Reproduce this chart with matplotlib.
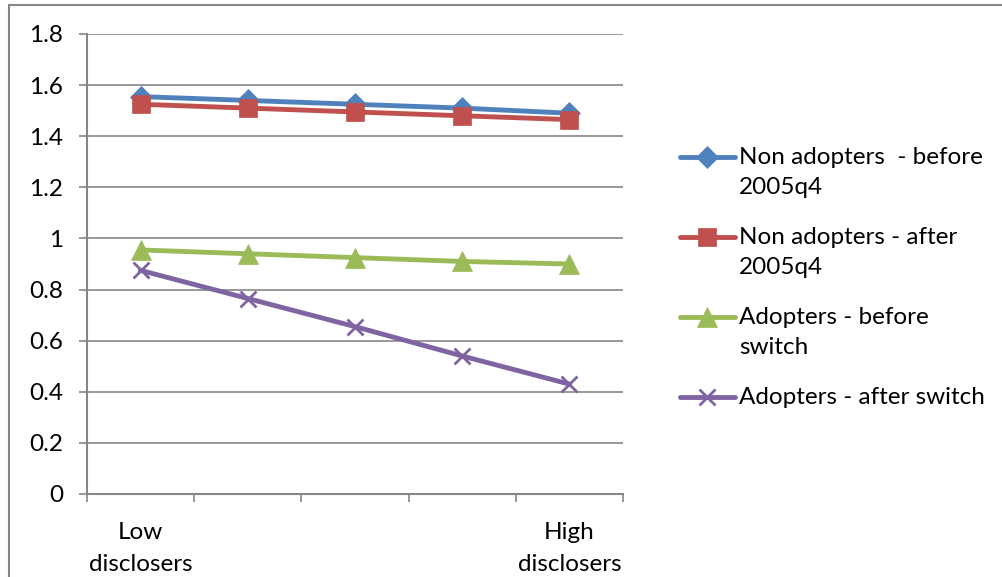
import numpy as np
import matplotlib
matplotlib.use("Agg")
import matplotlib.pyplot as plt
from matplotlib.lines import Line2D
from matplotlib.patches import Rectangle

# --------------------------------------------------
# Data
# --------------------------------------------------

categories = ["Low\ndisclosers", "", "", "", "High\ndisclosers"]

non_before = [1.555, 1.540, 1.525, 1.510, 1.490]
non_after = [1.525, 1.510, 1.495, 1.480, 1.465]
adopt_before = [0.955, 0.940, 0.925, 0.910, 0.900]
adopt_after = [0.875, 0.765, 0.655, 0.540, 0.430]

labels = [
    "Non adopters  - before\n2005q4",
    "Non adopters - after\n2005q4",
    "Adopters - before\nswitch",
    "Adopters - after switch",
]

colors = ["#4F81BD", "#C0504D", "#9BBB59", "#8064A2"]
markers = ["D", "s", "^", "x"]
msizes = [11, 13, 14, 12]

plt.rcParams["font.family"] = ["Lato", "DejaVu Sans"]
FS = 17.5

W, H = 1003, 577
fig = plt.figure(figsize=(W / 100, H / 100), dpi=100)
ax = fig.add_axes([87 / W, 1 - 494 / H, (623 - 87) / W, (494 - 34) / H])

x = np.arange(len(categories))
series = [non_before, non_after, adopt_before, adopt_after]

for vals, c, m, ms in zip(series, colors, markers, msizes):
    ax.plot(x, vals, color=c, linewidth=3.5, marker=m, markersize=ms,
            markeredgewidth=2 if m == "x" else 0.5, markeredgecolor=c,
            markerfacecolor=c, zorder=3, clip_on=False)

ax.set_xlim(-0.5, len(categories) - 0.5)
ax.set_ylim(0, 1.8)
ax.set_yticks(np.arange(0, 1.81, 0.2))
ax.set_yticklabels(["0", "0.2", "0.4", "0.6", "0.8", "1", "1.2", "1.4", "1.6", "1.8"])

ax.set_xticks(x)
ax.set_xticklabels(categories, linespacing=1.65)
ax.set_xticks(np.arange(-0.5, len(categories), 1.0), minor=True)
ax.tick_params(axis="x", which="major", length=0, pad=20, labelsize=FS)
ax.tick_params(axis="x", which="minor", length=6, width=1.2, color="#868686", direction="out")
ax.tick_params(axis="y", length=6, width=1.2, color="#868686", labelsize=FS, pad=11)

ax.grid(True, axis="y", color="#868686", linewidth=1.2)
ax.set_axisbelow(True)
for s in ["top", "right"]:
    ax.spines[s].set_visible(False)
for s in ["left", "bottom"]:
    ax.spines[s].set_color("#868686")
    ax.spines[s].set_linewidth(1.5)

# --------------------------------------------------
# Legend, drawn by hand so the key sits on the first text line
# --------------------------------------------------

leg_y = [157, 237, 317, 397]
for lab, c, m, ms, yy in zip(labels, colors, markers, msizes, leg_y):
    fy = 1 - yy / H
    fig.add_artist(Line2D([680 / W, 735 / W], [fy, fy], color=c, linewidth=3.5,
                          solid_capstyle="round"))
    fig.add_artist(Line2D([707 / W], [fy], color=c, marker=m, markersize=ms,
                          markeredgewidth=2 if m == "x" else 0.5,
                          markeredgecolor=c, markerfacecolor=c))
    fig.text(739 / W, 1 - (yy - 10) / H, lab, fontsize=FS, va="top", ha="left",
             linespacing=1.5)

# outer chart frame
fig.add_artist(Rectangle((9 / W, -0.1), 1.2, 1 - 5 / H + 0.1, transform=fig.transFigure,
                         fill=False, edgecolor="#868686", linewidth=1.5))

fig.savefig("out.png", dpi=100)
